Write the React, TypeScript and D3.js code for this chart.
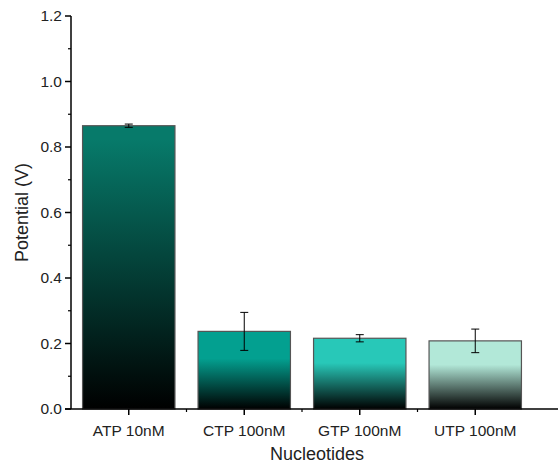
import React from 'react';
import * as d3 from 'd3';

const categories = ['ATP 10nM', 'CTP 100nM', 'GTP 100nM', 'UTP 100nM'];
const values = [0.865, 0.237, 0.216, 0.208];
const errors = [0.005, 0.058, 0.011, 0.036];
const topColors = ['#077a6a', '#03a090', '#28c8b8', '#b2e8d8'];
const yTicks = [0, 0.2, 0.4, 0.6, 0.8, 1.0, 1.2];

export default function App() {
  const width = 558, height = 466;
  const x0 = 71, x1 = 533, yBase = 409, yTop = 16;
  const x = d3.scaleBand().domain(categories).range([x0, x1]).paddingInner(0.2).paddingOuter(0.1);
  const y = d3.scaleLinear().domain([0, 1.2]).range([yBase, yTop]);
  const minor = d3.range(0.1, 1.2, 0.2);
  const font = 'Liberation Sans, Arial, sans-serif';

  return (
    <svg width={width} height={height} style={{ position: 'absolute', left: 0, top: 0 }} fontFamily={font}>
      <defs>
        {topColors.map((c, i) => (
          <linearGradient key={i} id={`g${i}`} x1="0" y1="0" x2="0" y2="1">
            <stop offset="0" stopColor={c} />
            <stop offset={i === 0 ? '0.05' : '0.35'} stopColor={c} />
            <stop offset="1" stopColor="#000" />
          </linearGradient>
        ))}
      </defs>
      {categories.map((c, i) => {
        const bx = x(c)!;
        const cx = bx + x.bandwidth() / 2;
        return (
          <g key={c}>
            <rect x={bx} y={y(values[i])} width={x.bandwidth()} height={yBase - y(values[i])}
              fill={`url(#g${i})`} stroke="#555" strokeWidth={1.2} />
            <line x1={cx} x2={cx} y1={y(values[i] + errors[i])} y2={y(values[i] - errors[i])} stroke="#000" />
            <line x1={cx - 4} x2={cx + 4} y1={y(values[i] + errors[i])} y2={y(values[i] + errors[i])} stroke="#000" />
            <line x1={cx - 4} x2={cx + 4} y1={y(values[i] - errors[i])} y2={y(values[i] - errors[i])} stroke="#000" />
          </g>
        );
      })}
      {/* y axis */}
      <line x1={x0} x2={x0} y1={yTop} y2={yBase} stroke="#000" strokeWidth={1.5} />
      {yTicks.map(t => (
        <g key={t}>
          <line x1={x0 - 6} x2={x0} y1={y(t)} y2={y(t)} stroke="#000" strokeWidth={1.5} />
          <text x={x0 - 9} y={y(t)} dy="0.35em" textAnchor="end" fontSize={15.5} fill="#222">{t.toFixed(1)}</text>
        </g>
      ))}
      {minor.map(t => (
        <line key={t} x1={x0 - 3} x2={x0} y1={y(t)} y2={y(t)} stroke="#000" strokeWidth={1.2} />
      ))}
      {/* x axis */}
      <line x1={x0 - 6} x2={width} y1={yBase} y2={yBase} stroke="#000" strokeWidth={1.5} />
      {categories.map((c, i) => {
        const cx = x(c)! + x.bandwidth() / 2;
        const mx = x(c)! - x.step() * 0.1;
        return (
          <g key={c}>
            <line x1={cx} x2={cx} y1={yBase} y2={yBase + 6} stroke="#000" strokeWidth={1.5} />
            {i > 0 && <line x1={mx} x2={mx} y1={yBase} y2={yBase + 3} stroke="#000" strokeWidth={1.2} />}
            <text x={cx} y={yBase + 27} textAnchor="middle" fontSize={15.5} fill="#222">{c}</text>
          </g>
        );
      })}
      <text x={x0 + (x1 - x0) / 2 + 15} y={460} textAnchor="middle" fontSize={18} fill="#222">Nucleotides</text>
      <text transform={`translate(28,${(yTop + yBase) / 2}) rotate(-90)`} textAnchor="middle" fontSize={18} fill="#222">Potential  (V)</text>
    </svg>
  );
}
